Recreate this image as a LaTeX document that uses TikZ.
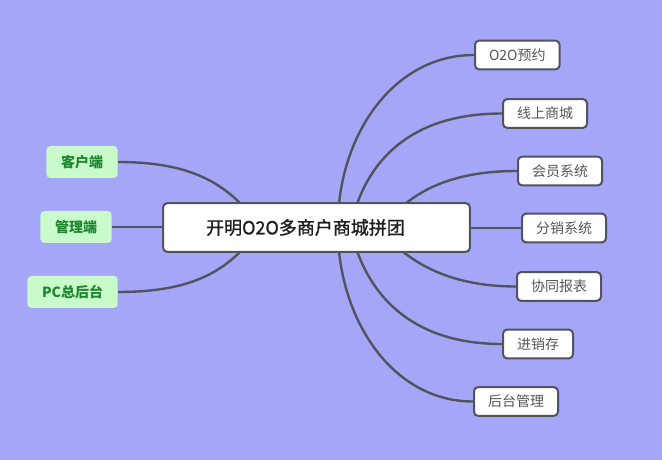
\documentclass[tikz,border=0pt]{standalone}
\usepackage{fontspec}
\setmainfont{Noto Sans CJK SC}
\newfontfamily\medfont[FakeBold=1.2]{Noto Sans CJK SC}
\usetikzlibrary{calc}
\pgfdeclarelayer{bg}
\pgfdeclarelayer{links}
\pgfsetlayers{bg,links,main}
\definecolor{bgc}{RGB}{166,166,249}
\definecolor{edgec}{RGB}{80,84,94}
\definecolor{greenfill}{RGB}{200,250,204}
\definecolor{greentext}{RGB}{30,135,45}
\definecolor{graytext}{RGB}{85,85,85}
\definecolor{maintext}{RGB}{30,30,30}
\tikzset{
  mainbox/.style={draw=edgec, line width=1.5pt, fill=white, rounded corners=3pt,
    minimum width=230pt, minimum height=36.5pt, inner sep=0pt,
    font=\fontsize{13.5}{16}\medfont, text=maintext},
  rbox/.style={draw=edgec, line width=1.5pt, fill=white, rounded corners=3pt,
    minimum height=21.5pt, inner xsep=10.5pt, inner ysep=0pt, anchor=west,
    font=\fontsize{10.5}{12}\selectfont, text=graytext},
  lbox/.style={fill=greenfill, rounded corners=3pt,
    minimum height=24pt, inner xsep=11pt, inner ysep=0pt, anchor=east,
    font=\fontsize{10.5}{12}\selectfont\bfseries, text=greentext},
  conn/.style={draw=edgec, line width=1.8pt}
}
\begin{document}
\begin{tikzpicture}[x=0.75pt,y=-0.75pt]
\begin{pgfonlayer}{bg}
\fill[bgc] (0,0) rectangle (662,460);
\end{pgfonlayer}
\useasboundingbox (0,0) rectangle (662,460);

% central node
\node[mainbox] (c) at (316.5,227.5) {开明O2O多商户商城拼团\kern16.5pt};

\coordinate (t1) at (339,204);
\coordinate (t2) at (357,204);
\coordinate (t3) at (405,204);
\coordinate (b1) at (339,251);
\coordinate (b2) at (357,251);
\coordinate (b3) at (402,251);
\coordinate (tl) at (241,204);
\coordinate (bl) at (241,251);

% right nodes
\node[rbox] (o2o) at (474,55) {O2O预约};
\node[rbox] (xs) at (502,113.5) {线上商城};
\node[rbox] (hy) at (517,171) {会员系统};
\node[rbox] (fx) at (521,228) {分销系统};
\node[rbox] (xt) at (516,286.5) {协同报表};
\node[rbox] (jx) at (502,344) {进销存};
\node[rbox] (ht) at (473,401.5) {后台管理};

% left nodes
\node[lbox] (kh) at (118,162) {客户端};
\node[lbox] (gl) at (112,227) {管理端};
\node[lbox] (pc) at (118,292) {PC总后台};

\begin{pgfonlayer}{links}
\draw[conn] (o2o.west) .. controls ($(o2o.west)+(-75,0)$) and ($(t1)+(8,-80)$) .. (t1);
\draw[conn] (xs.west) .. controls ($(xs.west)+(-85,0)$) and ($(t2)+(18,-50)$) .. (t2);
\draw[conn] (hy.west) .. controls ($(hy.west)+(-60,0)$) and ($(t3)+(20,-16)$) .. (t3);
\draw[conn] (fx.west) -- (c.east |- fx.west);
\draw[conn] (xt.west) .. controls ($(xt.west)+(-60,0)$) and ($(b3)+(20,16)$) .. (b3);
\draw[conn] (jx.west) .. controls ($(jx.west)+(-85,0)$) and ($(b2)+(18,50)$) .. (b2);
\draw[conn] (ht.west) .. controls ($(ht.west)+(-75,0)$) and ($(b1)+(8,80)$) .. (b1);
\draw[conn] (kh.east) .. controls ($(kh.east)+(65,0)$) and ($(tl)+(-25,-25)$) .. (tl);
\draw[conn] (gl.east) -- (c.west |- gl.east);
\draw[conn] (pc.east) .. controls ($(pc.east)+(65,0)$) and ($(bl)+(-25,25)$) .. (bl);
\end{pgfonlayer}
\end{tikzpicture}
\end{document}
